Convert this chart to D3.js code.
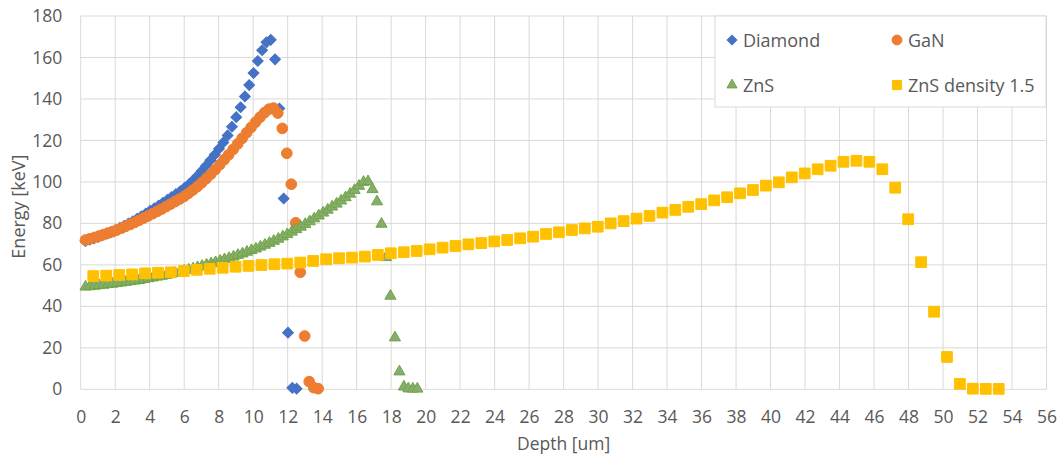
<!DOCTYPE html>
<html><head><meta charset="utf-8">
<script src="https://cdn.jsdelivr.net/npm/d3@7"></script>
<style>
html,body{margin:0;padding:0;background:#fff;}
svg{display:block;font-family:"Open Sans",sans-serif;}
</style></head>
<body>
<svg id="chart" width="1061" height="457"></svg>
<script>
const xTicks = d3.range(0, 57, 2);
const yTicks = d3.range(0, 181, 20);

const diamondX = [0.27,0.52,0.77,1.02,1.27,1.52,1.77,2.02,2.27,2.52,2.77,3.02,3.27,3.52,3.77,4.02,4.27,4.52,4.77,5.02,5.27,5.52,5.77,6.02,6.27,6.52,6.77,7.02,7.27,7.52,7.77,8.02,8.27,8.52,8.77,9.02,9.27,9.52,9.77,10.02,10.27,10.52,10.77,11.02,11.27,11.52,11.77,12.02,12.27,12.52];
const diamondY = [71.5,72.1,72.8,73.5,74.3,75.1,75.9,76.8,77.8,78.8,79.9,81.0,82.2,83.4,84.7,86.0,87.3,88.6,89.9,91.3,92.7,94.1,95.5,97.1,98.8,100.7,102.9,105.3,107.8,110.4,113.1,116.0,119.0,122.4,126.6,131.2,136.0,141.2,146.7,152.5,158.3,163.5,167.3,168.5,159.1,135.4,92.0,27.3,0.7,0.3];

const ganX = [0.28,0.54,0.80,1.06,1.32,1.58,1.84,2.10,2.36,2.61,2.87,3.13,3.39,3.65,3.91,4.17,4.43,4.69,4.95,5.21,5.47,5.73,5.99,6.25,6.51,6.77,7.02,7.28,7.54,7.80,8.06,8.32,8.58,8.84,9.10,9.36,9.62,9.88,10.14,10.40,10.66,10.92,11.18,11.43,11.69,11.95,12.21,12.47,12.73,12.99,13.25,13.51,13.77];
const ganY = [72.0,72.6,73.2,73.9,74.6,75.3,76.0,76.8,77.7,78.6,79.5,80.5,81.5,82.6,83.6,84.7,85.8,86.9,88.1,89.3,90.5,91.7,93.0,94.5,96.1,97.8,99.6,101.6,103.7,105.9,108.3,110.7,113.1,115.7,118.3,121.0,123.7,126.3,128.8,131.2,133.4,135.1,135.6,133.2,125.8,113.8,98.9,80.3,56.4,25.7,3.7,0.8,0.3];

const znsX = [0.28,0.54,0.80,1.06,1.32,1.58,1.84,2.10,2.36,2.62,2.88,3.14,3.40,3.66,3.92,4.18,4.44,4.70,4.96,5.22,5.48,5.74,6.00,6.26,6.52,6.78,7.04,7.30,7.56,7.82,8.08,8.34,8.60,8.86,9.12,9.38,9.64,9.90,10.16,10.42,10.68,10.94,11.20,11.46,11.72,11.98,12.24,12.50,12.76,13.02,13.28,13.54,13.80,14.06,14.32,14.58,14.84,15.10,15.36,15.62,15.88,16.14,16.40,16.66,16.92,17.18,17.44,17.70,17.96,18.22,18.48,18.74,19.00,19.26,19.52];
const znsY = [49.4,49.6,49.8,50.1,50.3,50.6,50.8,51.1,51.4,51.7,52.0,52.3,52.6,53.0,53.4,53.8,54.2,54.6,55.0,55.5,56.0,56.5,57.1,57.6,58.2,58.8,59.4,60.0,60.6,61.2,61.9,62.6,63.2,63.9,64.7,65.4,66.2,67.0,67.8,68.7,69.6,70.5,71.5,72.5,73.6,74.7,75.9,77.1,78.3,79.6,80.9,82.3,83.7,85.1,86.5,88.0,89.4,90.9,92.5,94.2,96.0,98.0,99.9,100.2,96.4,90.5,79.7,63.6,45.0,24.9,8.5,1.2,0.3,0.2,0.2];

const zns15X = [0.73,1.48,2.23,2.98,3.73,4.48,5.23,5.98,6.73,7.48,8.23,8.98,9.73,10.48,11.23,11.98,12.73,13.48,14.23,14.98,15.73,16.48,17.23,17.98,18.73,19.48,20.23,20.98,21.73,22.48,23.23,23.98,24.73,25.48,26.23,26.98,27.73,28.48,29.23,29.98,30.73,31.48,32.23,32.98,33.73,34.48,35.23,35.98,36.73,37.48,38.23,38.98,39.73,40.48,41.23,41.98,42.73,43.48,44.23,44.98,45.73,46.48,47.23,47.98,48.73,49.48,50.23,50.98,51.73,52.48,53.23];
const zns15Y = [54.6,54.8,55.1,55.4,55.9,56.2,56.4,57.0,57.6,58.1,58.6,59.1,59.5,59.9,60.3,60.6,61.1,61.9,62.7,63.2,63.5,64.0,64.8,65.6,66.1,66.7,67.5,68.3,69.1,69.9,70.5,71.3,72.0,72.8,73.6,74.9,75.7,76.8,77.6,78.4,80.0,81.1,82.3,83.6,85.2,86.5,88.0,89.3,91.1,92.6,94.5,96.1,98.2,99.8,102.2,104.1,106.1,107.8,109.7,110.2,109.7,106.1,97.2,82.0,61.3,37.4,15.6,2.6,0.3,0.2,0.2];

const seriesNames = ["Diamond", "GaN", "ZnS", "ZnS density 1.5"];

const svg = d3.select("#chart");
const L = 80.7, R = 1046.5, T = 16, B = 389.3;
const x = d3.scaleLinear().domain([0, 56]).range([L, R]);
const y = d3.scaleLinear().domain([0, 180]).range([B, T]);
const grid = "#d9d9d9", txt = "#595959";

// gridlines
const g = svg.append("g");
g.selectAll("line.v").data(xTicks).join("line")
  .attr("x1", d => x(d)).attr("x2", d => x(d)).attr("y1", T).attr("y2", B)
  .attr("stroke", grid).attr("stroke-width", 1);
g.selectAll("line.h").data(yTicks).join("line")
  .attr("x1", L).attr("x2", R).attr("y1", d => y(d)).attr("y2", d => y(d))
  .attr("stroke", grid).attr("stroke-width", 1);

// axes
const xa = svg.append("g").attr("transform", `translate(0,${B})`)
  .call(d3.axisBottom(x).tickValues(xTicks).tickSize(0).tickPadding(21).tickFormat(d3.format("d")));
xa.select(".domain").remove();
xa.selectAll("text").attr("fill", txt).style("font-size", "17.5px").style("font-family", "Open Sans");

const ya = svg.append("g").attr("transform", `translate(${L},0)`)
  .call(d3.axisLeft(y).tickValues(yTicks).tickSize(0).tickPadding(18.5).tickFormat(d3.format("d")));
ya.select(".domain").remove();
ya.selectAll("text").attr("fill", txt).style("font-size", "17.5px").style("font-family", "Open Sans");

// axis titles
svg.append("text").attr("x", (L + R) / 2).attr("y", 450).attr("text-anchor", "middle")
  .attr("fill", txt).style("font-size", "17.5px").text("Depth [um]");
svg.append("text").attr("transform", `translate(25,${(T + B) / 2 + 4}) rotate(-90)`).attr("text-anchor", "middle")
  .attr("fill", txt).style("font-size", "18px").text("Energy [keV]");

// series
const styles = [
  {color: "#4472C4", stroke: "#4472C4", sym: d3.symbolSquare, size: 58, rot: 45},
  {color: "#ED7D31", stroke: "#ED7D31", sym: d3.symbolCircle, size: 90, rot: 0},
  {color: "#86AD6C", stroke: "#6FA545", sym: d3.symbolTriangle, size: 54, rot: 0},
  {color: "#FFC000", stroke: "#FFC000", sym: d3.symbolSquare, size: 115, rot: 0}
];
const data = [
  diamondX.map((v, i) => [v, diamondY[i]]),
  ganX.map((v, i) => [v, ganY[i]]),
  znsX.map((v, i) => [v, znsY[i]]),
  zns15X.map((v, i) => [v, zns15Y[i]])
];
data.forEach((pts, k) => {
  const s = styles[k];
  const path = d3.symbol().type(s.sym).size(s.size)();
  svg.append("g").selectAll("path").data(pts).join("path")
    .attr("d", path)
    .attr("transform", d => `translate(${x(d[0])},${y(d[1])}) rotate(${s.rot})`)
    .attr("fill", s.color).attr("stroke", s.stroke).attr("stroke-width", 1);
});

// legend
const lg = svg.append("g");
lg.append("rect").attr("x", 715).attr("y", 16).attr("width", 331).attr("height", 91)
  .attr("fill", "#fff").attr("stroke", grid).attr("stroke-width", 1);
const legPos = [[732, 40], [897, 40], [732, 85], [897, 85]];
const legSize = [46, 76, 44, 84];
seriesNames.forEach((name, k) => {
  const s = styles[k];
  const [lx, ly] = legPos[k];
  lg.append("path").attr("d", d3.symbol().type(s.sym).size(legSize[k])())
    .attr("transform", `translate(${lx},${ly}) rotate(${s.rot})`)
    .attr("fill", s.color).attr("stroke", s.stroke).attr("stroke-width", 1);
  lg.append("text").attr("x", lx + 11).attr("y", ly + 6.5).attr("fill", txt)
    .style("font-size", "18px").text(name);
});
</script>
</body></html>
